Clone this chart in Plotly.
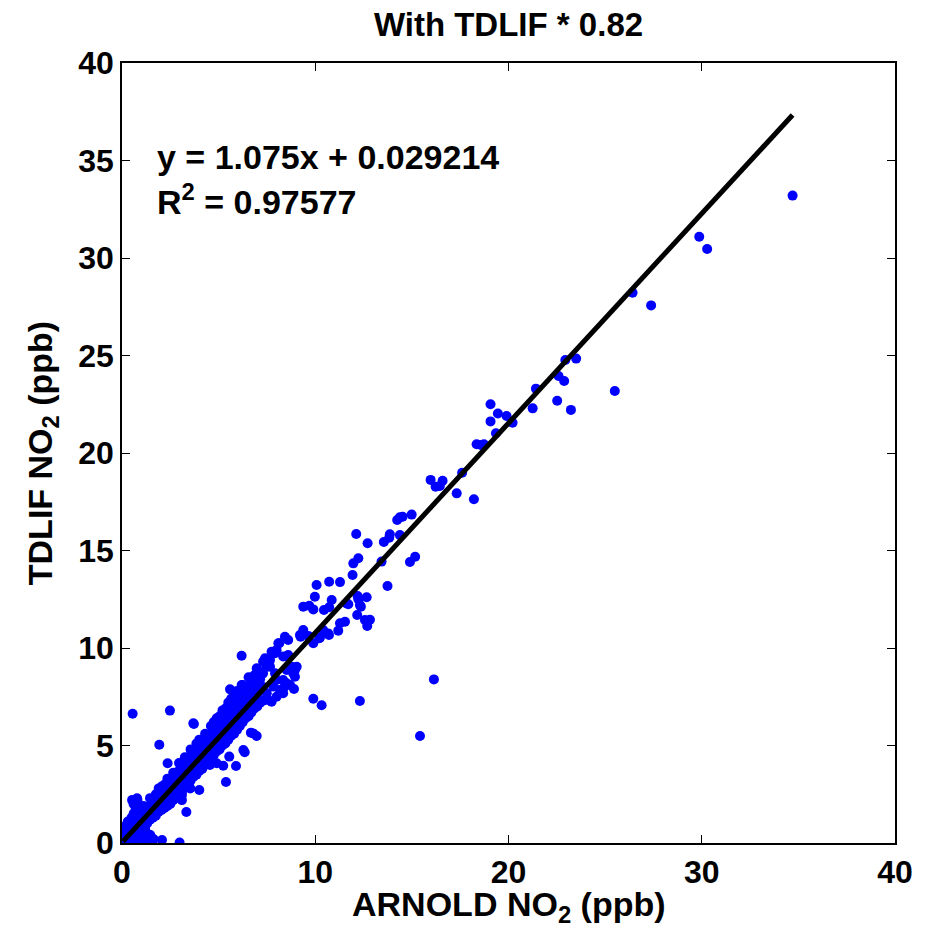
import plotly.graph_objects as go

# ---------------- chart text / fit parameters ----------------
title_text = "With TDLIF * 0.82"
x_title = "ARNOLD NO<sub>2</sub> (ppb)"
y_title = "TDLIF NO<sub>2</sub> (ppb)"
fit_slope = 1.075
fit_intercept = 0.029214
fit_r2 = 0.97577

x_ticks = [0, 10, 20, 30, 40]
y_ticks = [0, 5, 10, 15, 20, 25, 30, 35, 40]

# ---------------- dense band (ARNOLD value, TDLIF values at that value) ----------------
band_arnold = [0.05, 0.1, 0.2, 0.3, 0.4, 0.5, 0.6, 0.7, 0.8, 0.9,
               1.0, 1.1, 1.2, 1.3, 1.45, 1.6, 1.75, 1.9,
               2.05, 2.2, 2.35, 2.5, 2.65, 2.8, 2.95, 3.1, 3.25, 3.4,
               3.55, 3.7, 3.85, 4.0, 4.15, 4.3, 4.45, 4.6, 4.75, 4.9,
               5.05, 5.2, 5.35, 5.5, 5.65, 5.8, 5.95, 6.1, 6.25, 6.4,
               6.55, 6.7, 6.85, 7.0, 7.15, 7.3]
band_tdlif = [
    [0.0, 0.2, 0.4], [0.1, 0.5, 0.7], [0.0, 0.3, 0.6, 0.9], [0.1, 0.4, 0.8, 1.1],
    [0.0, 0.2, 0.5, 0.9], [0.1, 0.6, 1.0, 1.3], [0.0, 0.4, 0.8, 1.5, 2.0],
    [0.2, 0.7, 1.2, 1.7], [0.05, 0.5, 0.9, 1.4, 2.2], [0.3, 0.8, 1.1, 1.9],
    [0.1, 0.6, 1.0, 1.3, 1.7], [0.25, 0.9, 1.2, 1.5, 1.9], [0.0, 0.7, 1.1, 1.4, 1.8],
    [0.3, 1.0, 1.3, 1.6], [0.4, 1.2, 1.6, 1.9, 2.3], [0.2, 1.3, 1.7, 2.1],
    [1.4, 1.8, 2.2, 2.5], [1.6, 2.0, 2.4, 2.8],
    [1.7, 2.1, 2.5, 2.9], [1.8, 2.2, 2.6, 3.0], [1.9, 2.3, 2.7, 3.1, 3.3],
    [2.0, 2.5, 2.9, 3.3], [2.2, 2.6, 3.0, 3.4, 3.6], [2.3, 2.8, 3.2, 3.6],
    [2.5, 2.9, 3.3, 3.7, 4.1], [2.6, 3.1, 3.5, 3.9], [2.9, 3.3, 3.7, 4.1, 4.4],
    [3.0, 3.5, 3.9, 4.3], [3.2, 3.6, 4.0, 4.5, 4.8], [3.4, 3.8, 4.2, 4.7],
    [3.5, 3.9, 4.4, 4.8, 5.1], [3.7, 4.1, 4.6, 5.0, 5.3], [3.8, 4.3, 4.7, 5.1],
    [4.0, 4.4, 4.9, 5.3, 5.6], [4.1, 4.6, 5.0, 5.5], [4.3, 4.8, 5.2, 5.6, 6.0],
    [4.5, 4.9, 5.4, 5.8, 6.2], [4.7, 5.1, 5.5, 6.0, 6.4],
    [4.8, 5.3, 5.7, 6.1, 6.5], [5.0, 5.4, 5.9, 6.3, 6.8], [5.1, 5.6, 6.0, 6.5, 6.9],
    [5.3, 5.8, 6.2, 6.7, 7.2], [5.5, 5.9, 6.4, 6.9, 7.4], [5.6, 6.1, 6.6, 7.0, 7.6],
    [5.8, 6.3, 6.8, 7.3, 7.8], [6.0, 6.5, 7.0, 7.5], [6.2, 6.7, 7.2, 7.7, 8.1],
    [6.4, 6.9, 7.4, 7.9], [6.5, 7.0, 7.5, 8.0, 8.5], [6.7, 7.2, 7.7, 8.3],
    [6.9, 7.4, 7.9, 8.6], [7.0, 7.6, 8.1, 8.9], [7.2, 7.9, 8.4], [7.3, 8.0, 8.7, 9.3],
]

# ---------------- individual points ----------------
scatter_arnold = [
    7.57, 7.74, 8.17, 8.34, 8.0, 8.52, 7.49, 7.83, 8.0, 8.34,
    8.78, 8.95, 9.04, 8.86, 8.95, 7.14, 6.79, 7.49, 7.66, 7.92,
    8.52, 8.34, 8.6, 7.4, 6.97, 7.74, 8.0, 8.09, 8.43, 8.14,
    8.6, 7.92, 7.66, 8.52, 9.21, 9.38, 9.64, 9.24, 10.24, 10.71,
    10.41, 9.9, 10.67, 10.21, 11.28, 11.54, 11.19, 12.17, 12.69, 12.57,
    12.83, 9.38, 9.69, 9.9, 10.45, 10.72, 11.62, 11.71, 12.23, 12.31,
    12.66, 12.19, 12.36, 9.98, 10.85, 10.07, 10.72, 11.28, 11.93, 13.74,
    11.97, 12.23, 12.12, 12.71, 13.55, 13.83, 13.86, 14.38, 13.43, 14.9,
    15.17, 14.24, 14.38, 14.52, 14.99, 15.97, 16.23, 16.45, 16.59, 17.32,
    18.21, 17.6, 18.35, 18.57, 18.73, 19.07, 19.45, 19.9, 19.07, 20.21,
    19.35, 21.42, 21.25, 22.52, 23.23, 22.59, 22.88, 22.94, 23.5, 25.5,
    26.42, 27.38, 29.87, 30.28, 34.7,
    0.55, 2.48, 1.93, 3.72, 6.19, 2.36, 5.38, 4.0, 3.33, 2.98,
    5.9, 6.35, 5.55, 6.79, 6.97, 6.67, 4.9, 5.24, 4.55, 6.28,
    5.59, 6.19, 3.69, 9.9, 10.33, 12.31, 16.14, 15.42, 2.07, 1.64,
    1.46, 3.1, 3.53, 3.1, 0.78, 0.86, 1.2, 0.52, 8.7, 8.9,
    8.4,
]
scatter_tdlif = [
    7.33, 7.25, 7.85, 7.68, 8.36, 8.19, 7.68, 8.02, 7.5, 8.36,
    9.04, 8.87, 9.04, 8.7, 8.53, 8.7, 8.53, 9.04, 9.04, 8.7,
    8.87, 9.56, 9.64, 9.47, 8.96, 9.81, 9.9, 10.24, 10.58, 10.24,
    10.41, 9.73, 9.38, 9.56, 10.67, 10.92, 10.62, 10.58, 10.53, 10.67,
    10.92, 10.24, 10.75, 10.5, 11.27, 11.35, 10.89, 11.69, 11.13, 11.44,
    11.45, 12.12, 12.17, 11.98, 11.95, 12.09, 12.29, 12.24, 12.5, 12.2,
    12.6, 12.67, 12.12, 12.63, 12.46, 13.23, 13.4, 13.38, 13.74, 13.18,
    14.34, 14.6, 15.85, 15.37, 15.44, 15.66, 15.83, 15.79, 14.43, 14.41,
    14.68, 16.56, 16.7, 16.73, 16.84, 18.62, 18.27, 18.31, 18.58, 17.93,
    17.63, 18.99, 20.45, 20.41, 20.45, 22.5, 22.03, 21.9, 21.62, 21.55,
    21.01, 23.3, 22.29, 22.68, 22.21, 23.95, 23.69, 24.77, 24.84, 23.18,
    28.22, 27.57, 31.09, 30.46, 33.2,
    6.63, 6.79, 5.04, 6.1, 9.6, 4.09, 3.13, 2.72, 1.59, 0.03,
    3.95, 4.65, 4.43, 5.62, 5.49, 5.66, 4.09, 3.96, 4.0, 4.77,
    7.88, 8.1, 6.14, 7.4, 7.06, 7.28, 8.39, 5.49, 0.15, 0.19,
    0.41, 2.46, 2.8, 2.2, 2.29, 1.95, 1.86, 2.2, 8.1, 7.9,
    8.0,
]

# ---------------- assemble ----------------
all_x = [x for x, ys in zip(band_arnold, band_tdlif) for _ in ys] + scatter_arnold
all_y = [y for ys in band_tdlif for y in ys] + scatter_tdlif
assert len(all_x) == len(all_y), (len(all_x), len(all_y))

x_lo, x_hi = min(all_x), max(all_x)
fit_x = [x_lo, x_hi]
fit_y = [fit_slope * v + fit_intercept for v in fit_x]

FONT = "Liberation Sans, Arial, Helvetica, sans-serif"

fig = go.Figure()
fig.add_trace(go.Scatter(
    x=all_x, y=all_y, mode="markers",
    marker=dict(color="#0000ff", size=10, line=dict(width=0)),
    showlegend=False, hoverinfo="x+y",
))
fig.add_trace(go.Scatter(
    x=fit_x, y=fit_y, mode="lines",
    line=dict(color="black", width=5),
    showlegend=False, hoverinfo="skip",
))

fig.add_annotation(
    x=1.7, y=35.2, xref="x", yref="y", xanchor="left", yanchor="middle",
    text=f"y = {fit_slope}x + {fit_intercept}", showarrow=False,
    font=dict(family=FONT, size=34, color="black", weight="bold"),
)
fig.add_annotation(
    x=1.7, y=33.0, xref="x", yref="y", xanchor="left", yanchor="middle",
    text=f"R<sup>2</sup> = {fit_r2}", showarrow=False,
    font=dict(family=FONT, size=34, color="black", weight="bold"),
)
# x-axis title, placed just below the tick labels
fig.add_annotation(
    x=0.5, y=-0.051, xref="paper", yref="paper", xanchor="center", yanchor="top",
    text=x_title, showarrow=False,
    font=dict(family=FONT, size=34, color="black", weight="bold"),
)

axis_common = dict(
    showgrid=False, zeroline=False, showline=True, linecolor="black", linewidth=1.5,
    mirror="ticks", ticks="inside", ticklen=8, tickwidth=1, tickcolor="black",
    automargin=False,
    tickfont=dict(family=FONT, size=32, color="black", weight="bold"),
)

# page body has an 8 px margin; sizes chosen so the plot box lands at 122..895 x 63..843
W, H = 911, 918
fig.update_layout(
    width=W, height=H,
    margin=dict(l=114, r=24, t=55, b=83),
    paper_bgcolor="white", plot_bgcolor="white",
    title=dict(text=title_text, x=0.5, xref="paper", y=1 - 16 / H, yref="container",
               xanchor="center", yanchor="middle",
               font=dict(family=FONT, size=33, color="black", weight="bold")),
    xaxis=dict(range=[0, 40], tickvals=x_ticks, ticktext=[str(t) for t in x_ticks],
               **axis_common),
    yaxis=dict(range=[0, 40], tickvals=y_ticks, ticktext=[str(t) for t in y_ticks],
               title=dict(text=y_title,
                          font=dict(family=FONT, size=34, color="black", weight="bold")),
               **axis_common),
)

fig.write_html("out.html")
